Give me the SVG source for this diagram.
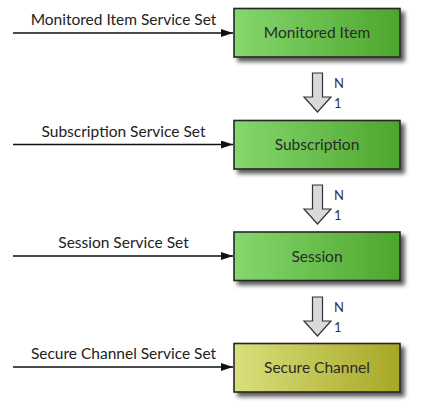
<svg xmlns="http://www.w3.org/2000/svg" width="447" height="419" viewBox="0 0 447 419">
<defs>
<linearGradient id="gG" x1="0" y1="0" x2="1" y2="0">
<stop offset="0" stop-color="#86d76e"/>
<stop offset="1" stop-color="#4da62d"/>
</linearGradient>
<linearGradient id="gY" x1="0" y1="0" x2="1" y2="0">
<stop offset="0" stop-color="#dbdf7c"/>
<stop offset="1" stop-color="#a5a826"/>
</linearGradient>
<filter id="sh" x="-10%" y="-20%" width="130%" height="160%">
<feGaussianBlur in="SourceAlpha" stdDeviation="2"/>
<feOffset dx="4" dy="4" result="b"/>
<feComponentTransfer><feFuncA type="linear" slope="0.65"/></feComponentTransfer>
<feMerge><feMergeNode/><feMergeNode in="SourceGraphic"/></feMerge>
</filter>
<marker id="ah" viewBox="0 0 12 8" refX="12" refY="4" markerWidth="12" markerHeight="8" markerUnits="userSpaceOnUse" orient="auto">
<path d="M0,0 L12,4 L0,8 Z" fill="#111"/>
</marker>
<path id="blk" d="M-5,0 H5 V24 H13.5 L0,39 L-13.5,24 H-5 Z"/>
</defs>
<style>
.box{stroke:#262626;stroke-width:1.6;filter:url(#sh)}
.bl{font-family:Lato,"Liberation Sans",sans-serif;font-size:15.5px;fill:#2b2b2b;text-anchor:middle}
.sl{font-family:Lato,"Liberation Sans",sans-serif;font-size:15.5px;fill:#222;text-anchor:middle}
.nl{font-family:Lato,"Liberation Sans",sans-serif;font-size:13px;fill:#333333}
.ln{stroke:#111;stroke-width:1.5;fill:none;marker-end:url(#ah)}
.ba{fill:#d9d9d9;stroke:#333;stroke-width:1.2}
</style>
<g id="connectors">
<line class="ln" x1="13" y1="33" x2="233" y2="33"/>
<line class="ln" x1="13" y1="144.5" x2="233" y2="144.5"/>
<line class="ln" x1="13" y1="256" x2="233" y2="256"/>
<line class="ln" x1="13" y1="367" x2="233" y2="367"/>
<text class="sl" x="123.5" y="25">Monitored Item Service Set</text>
<text class="sl" x="123.5" y="137">Subscription Service Set</text>
<text class="sl" x="123.5" y="248">Session Service Set</text>
<text class="sl" x="123.5" y="359">Secure Channel Service Set</text>
<use href="#blk" class="ba" x="317.5" y="73"/>
<use href="#blk" class="ba" x="317.5" y="185"/>
<use href="#blk" class="ba" x="317.5" y="297"/>
<text class="nl" x="334" y="88" fill="#333333">N</text>
<text class="nl" x="334" y="108" fill="#333333">1</text>
<text class="nl" x="334" y="200" fill="#333333">N</text>
<text class="nl" x="334" y="220" fill="#333333">1</text>
<text class="nl" x="334" y="312" fill="#333333">N</text>
<text class="nl" x="334" y="332" fill="#333333">1</text>
</g>
<g id="monitored-item">
<rect class="box" x="234" y="8.5" width="166" height="48.5" fill="url(#gG)"/>
<text class="bl" x="317" y="38">Monitored Item</text>
</g>
<g id="subscription">
<rect class="box" x="234" y="120.5" width="166" height="48.5" fill="url(#gG)"/>
<text class="bl" x="317" y="150">Subscription</text>
</g>
<g id="session">
<rect class="box" x="234" y="232" width="166" height="48.5" fill="url(#gG)"/>
<text class="bl" x="317" y="261.5">Session</text>
</g>
<g id="secure-channel">
<rect class="box" x="234" y="343.5" width="166" height="48.5" fill="url(#gY)"/>
<text class="bl" x="317" y="373">Secure Channel</text>
</g>
</svg>
